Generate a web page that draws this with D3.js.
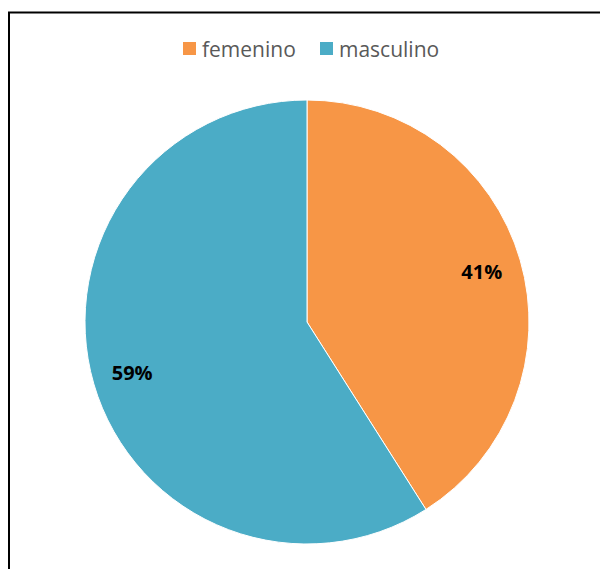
<!DOCTYPE html>
<html>
<head>
<meta charset="utf-8">
<script src="https://cdn.jsdelivr.net/npm/d3@7"></script>
<style>
  html, body { margin: 0; padding: 0; background: #fff; }
  svg { display: block; }
</style>
</head>
<body>
<svg id="chart" width="600" height="569"></svg>
<script>
const categories = ["femenino", "masculino"];
const values = [41, 59];
const colors = ["#F79646", "#4BACC6"];

const svg = d3.select("#chart");

// chart frame
svg.append("rect")
  .attr("x", 9).attr("y", 12.5)
  .attr("width", 620).attr("height", 600)
  .attr("fill", "none")
  .attr("stroke", "#000").attr("stroke-width", 2);

const cx = 307, cy = 322, r = 222;
const g = svg.append("g").attr("transform", `translate(${cx},${cy})`);

const data = categories.map((c, i) => ({ name: c, value: values[i], color: colors[i] }));
const pie = d3.pie().sort(null).value(d => d.value);
const arcs = pie(data);
const arc = d3.arc().innerRadius(0).outerRadius(r);
const labelArc = d3.arc().innerRadius(r * 0.82).outerRadius(r * 0.82);

g.selectAll("path.slice").data(arcs).join("path")
  .attr("class", "slice")
  .attr("d", arc)
  .attr("fill", d => d.data.color)
  .attr("stroke", "#fff").attr("stroke-width", 1);

g.selectAll("text.lbl").data(arcs).join("text")
  .attr("class", "lbl")
  .attr("transform", d => `translate(${labelArc.centroid(d)})`)
  .attr("text-anchor", "middle")
  .attr("dominant-baseline", "central")
  .attr("font-family", "'Open Sans', sans-serif")
  .attr("font-weight", "bold")
  .attr("font-size", 20)
  .attr("fill", "#000")
  .text(d => d.data.value + "%");

// legend
const legend = svg.append("g");
const legendX = [183, 320];
categories.forEach((c, i) => {
  const lg = legend.append("g").attr("transform", `translate(${legendX[i]},42)`);
  lg.append("rect").attr("width", 13).attr("height", 13).attr("fill", colors[i]);
  lg.append("text")
    .attr("x", 19).attr("y", 6.5)
    .attr("dominant-baseline", "central")
    .attr("font-family", "'Open Sans', sans-serif")
    .attr("font-size", 21)
    .attr("fill", "#595959")
    .text(c);
});
</script>
</body>
</html>
